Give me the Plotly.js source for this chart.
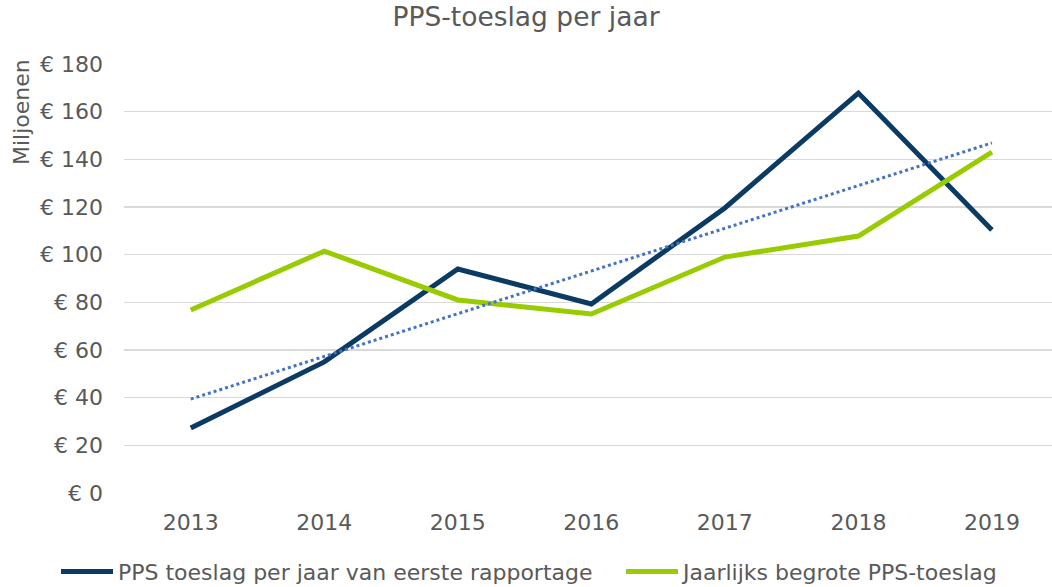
<!DOCTYPE html>
<html>
<head>
<meta charset="utf-8">
<script src="https://cdn.plot.ly/plotly-3.0.1.min.js"></script>
<style>html,body{margin:0;padding:0;background:#fff;}#chart{width:1052px;height:587px;}</style>
</head>
<body>
<div id="chart"></div>
<script>
const years = ['2013','2014','2015','2016','2017','2018','2019'];
const eersteRapportage = [27.3, 55, 94, 79.3, 119.6, 167.8, 110.4];
const begroot = [76.8, 101.5, 81, 75.1, 99, 107.8, 143];
const trendYears = ['2013','2019'];
const trendValues = [39.4, 146.9];
const yTicks = [0,20,40,60,80,100,120,140,160,180];
const yTickLabels = yTicks.map(v => '€ ' + v);

const font = 'DejaVu Sans, Verdana, sans-serif';
const gray = '#595959';

const data = [
  {x: years, y: eersteRapportage, type: 'scatter', mode: 'lines',
   name: 'PPS toeslag per jaar van eerste rapportage', legend: 'legend',
   line: {color: '#0B3A63', width: 5}},
  {x: years, y: begroot, type: 'scatter', mode: 'lines',
   name: 'Jaarlijks begrote PPS-toeslag', legend: 'legend2',
   line: {color: '#99CC00', width: 5}},
  {x: trendYears, y: trendValues, type: 'scatter', mode: 'lines', showlegend: false,
   line: {color: '#4472C4', width: 3, dash: 'dot'}, hoverinfo: 'skip'}
];

const legendBase = {orientation: 'h', xref: 'container', yref: 'container', y: 0.026, yanchor: 'middle',
                    xanchor: 'left', font: {size: 22, color: gray}, itemwidth: 52, bgcolor: 'rgba(0,0,0,0)'};

const layout = {
  width: 1052, height: 587,
  margin: {l: 124, r: 0, t: 64, b: 94},
  paper_bgcolor: '#fff', plot_bgcolor: '#fff',
  font: {family: font, color: gray, size: 22},
  title: {text: 'PPS-toeslag per jaar', font: {family: font, size: 26.5, color: gray},
          x: 0.5, xanchor: 'center', xref: 'container', y: 0.972, yanchor: 'middle'},
  xaxis: {type: 'category', categoryorder: 'array', categoryarray: years, range: [-0.5, 6.45],
          showgrid: false, zeroline: false, showline: false, ticks: '',
          tickfont: {size: 22, color: gray}, ticklabelstandoff: 14},
  yaxis: {range: [0, 180], tickvals: yTicks, ticktext: yTickLabels, showgrid: true,
          gridcolor: '#D9D9D9', gridwidth: 1.5, zeroline: false, showline: false,
          ticks: '', tickfont: {size: 22, color: gray}, ticklabelstandoff: 20},
  legend: Object.assign({}, legendBase, {x: 56/1052}),
  legend2: Object.assign({}, legendBase, {x: 621/1052}),
  annotations: [{text: 'Miljoenen', xref: 'paper', yref: 'paper', x: -0.111, y: 0.888,
                 xanchor: 'center', yanchor: 'middle', textangle: -90, showarrow: false,
                 font: {size: 22, color: gray}}],
  showlegend: true
};

Plotly.newPlot('chart', data, layout, {displayModeBar: false, staticPlot: true});
</script>
</body>
</html>
